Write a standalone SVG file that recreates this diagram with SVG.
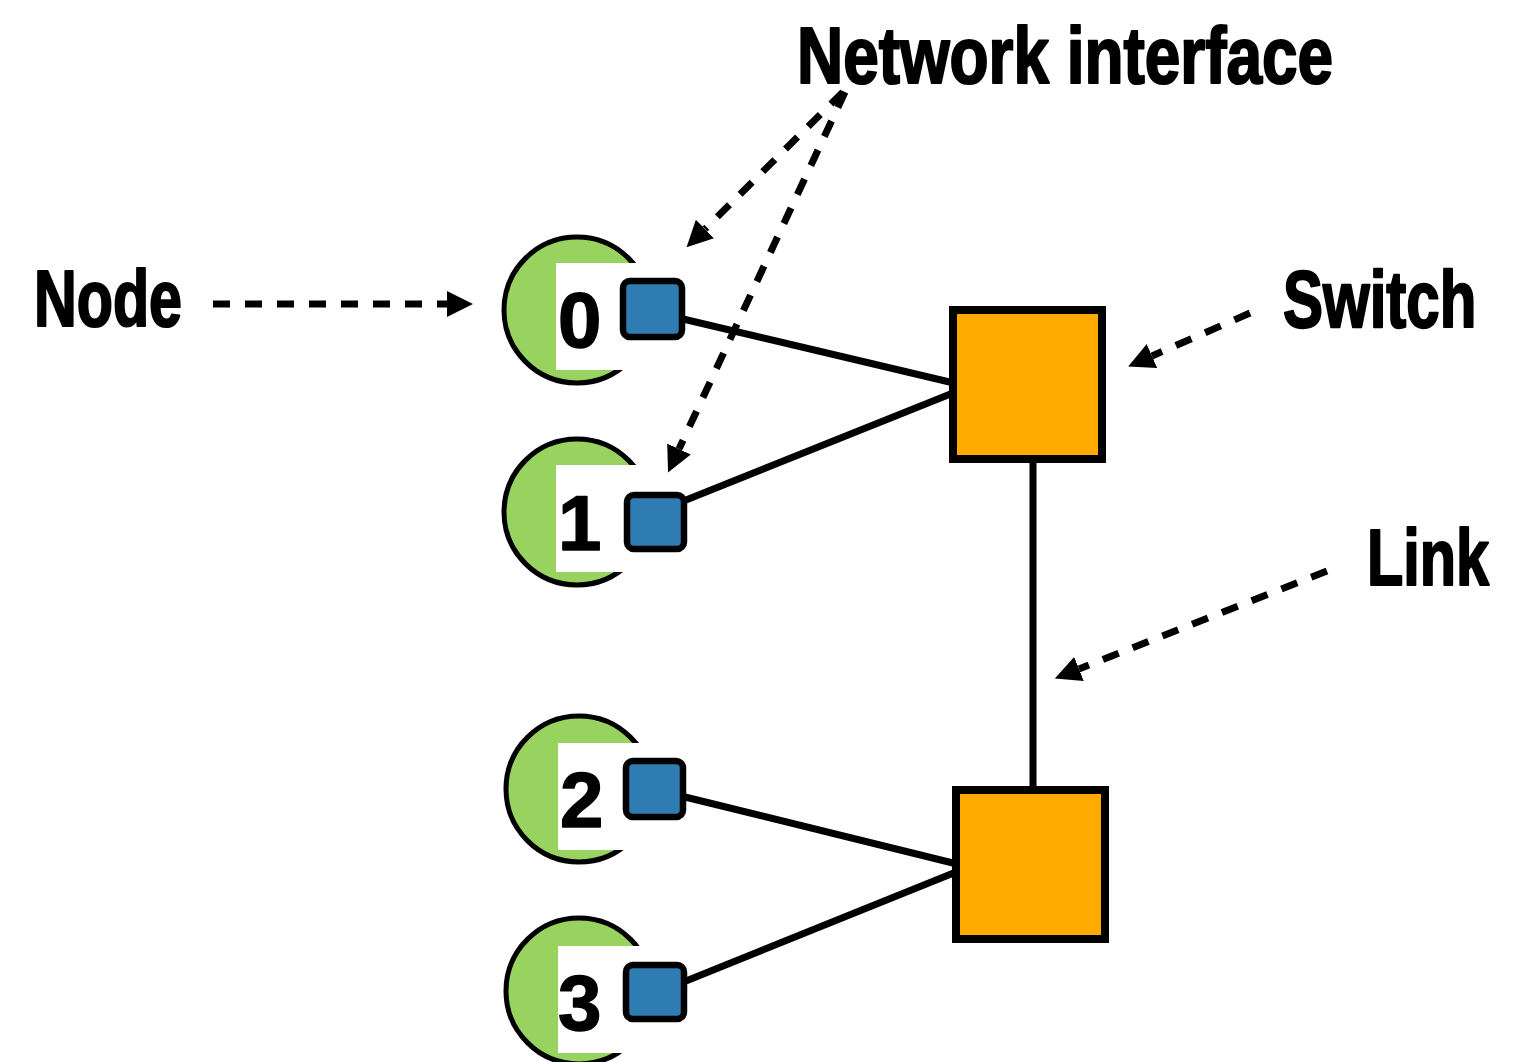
<svg xmlns="http://www.w3.org/2000/svg" width="1532" height="1062" viewBox="0 0 1532 1062">
<style>
.lbl{font-family:"Liberation Sans","DejaVu Sans",sans-serif;font-weight:bold;font-size:80px;fill:#000;stroke:#000;stroke-width:2.2;stroke-linejoin:round}
.lbls{font-family:"Liberation Sans","DejaVu Sans",sans-serif;font-weight:bold;font-size:60px;fill:#000;stroke:#000;stroke-width:1.7;stroke-linejoin:round}
.dig{font-family:"Liberation Sans","DejaVu Sans",sans-serif;font-weight:bold;font-size:78px;fill:#000;stroke:#000;stroke-width:1.5;stroke-linejoin:round}
.circ{fill:#99d35f;stroke:#000;stroke-width:5}
.mask{fill:#fff}
.nic{fill:#2e7cb2;stroke:#000;stroke-width:6.5}
.sw{fill:#ffaa00;stroke:#000;stroke-width:8}
.link{stroke:#000;stroke-width:7;fill:none}
.dash{stroke:#000;stroke-width:7;fill:none;stroke-dasharray:17 15;marker-end:url(#ah)}
</style>
<defs>
<marker id="ah" markerUnits="userSpaceOnUse" markerWidth="26" markerHeight="26" refX="0" refY="13" orient="auto" viewBox="0 0 26 26">
<path d="M0,0 L26,13 L0,26 z" fill="#000"/>
</marker>
</defs>
<rect width="1532" height="1062" fill="#fff"/>
<g id="connectors">
<line class="link" x1="683" y1="319" x2="958" y2="384"/>
<line class="link" x1="686" y1="500" x2="958" y2="391"/>
<line class="link" x1="685" y1="797" x2="961" y2="865"/>
<line class="link" x1="686" y1="981" x2="961" y2="870"/>
<line class="link" x1="1033" y1="463" x2="1033" y2="786"/>
</g>
<g id="node0">
<circle class="circ" cx="577" cy="310" r="73"/>
<rect class="mask" x="556" y="263" width="104" height="107"/>
<text class="dig" x="558" y="347">0</text>
<rect class="nic" x="623" y="281" width="59" height="56" rx="7"/>
</g>
<g id="node1">
<circle class="circ" cx="577" cy="512" r="73"/>
<rect class="mask" x="556" y="465" width="104" height="107"/>
<text class="dig" x="558" y="550">1</text>
<rect class="nic" x="627" y="495" width="57" height="54" rx="7"/>
</g>
<g id="node2">
<circle class="circ" cx="579" cy="789" r="73"/>
<rect class="mask" x="558" y="743" width="104" height="107"/>
<text class="dig" x="560" y="827">2</text>
<rect class="nic" x="626" y="761" width="57" height="56" rx="7"/>
</g>
<g id="node3">
<circle class="circ" cx="579" cy="991" r="73"/>
<rect class="mask" x="558" y="946" width="104" height="107"/>
<text class="dig" x="558" y="1030">3</text>
<rect class="nic" x="626" y="965" width="58" height="54" rx="7"/>
</g>
<g id="switch0">
<rect class="sw" x="953" y="310" width="149" height="149"/>
</g>
<g id="switch1">
<rect class="sw" x="956" y="790" width="149" height="149"/>
</g>
<g id="annotations">
<text class="lbl" x="797" y="83" textLength="536" lengthAdjust="spacingAndGlyphs">Network interface</text>
<text class="lbl" x="34" y="326" textLength="148" lengthAdjust="spacingAndGlyphs">Node</text>
<text class="lbls" transform="translate(1283,327) scale(1,1.333)" x="0" y="0">Switch</text>
<text class="lbl" x="1367" y="585" textLength="122" lengthAdjust="spacingAndGlyphs">Link</text>
<line class="dash" x1="213" y1="304" x2="447" y2="304"/>
<line class="dash" x1="843" y1="92" x2="705" y2="229"/>
<line class="dash" x1="845" y1="92" x2="679" y2="449"/>
<line class="dash" x1="1250" y1="313" x2="1152" y2="356"/>
<line class="dash" x1="1327" y1="571" x2="1079" y2="669"/>
</g>
</svg>
